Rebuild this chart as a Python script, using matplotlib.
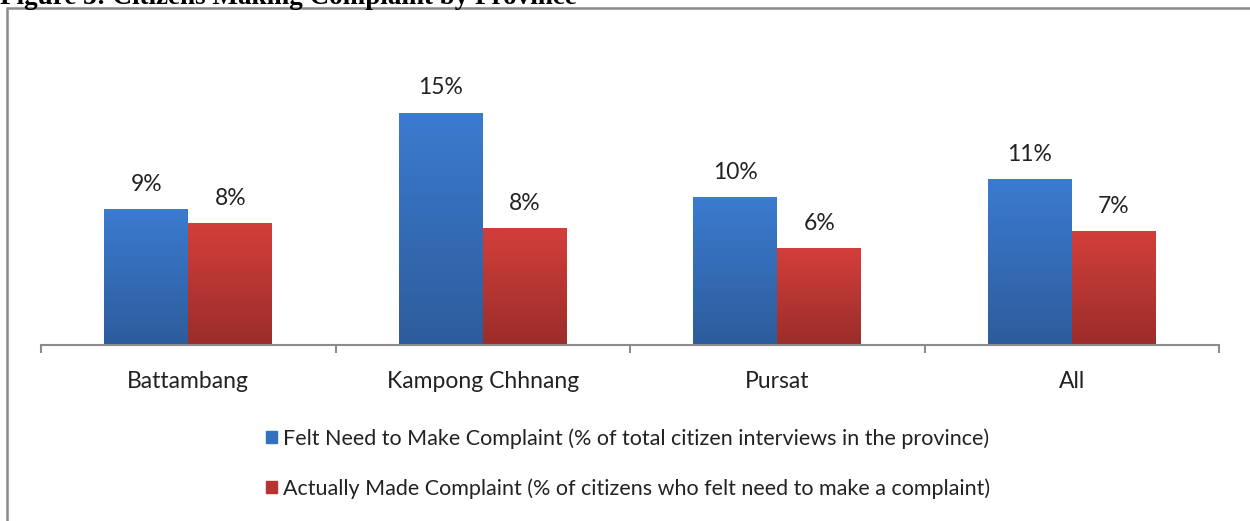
import matplotlib
matplotlib.use("Agg")
from matplotlib import pyplot as plt
from matplotlib.patches import Rectangle
from matplotlib.colors import LinearSegmentedColormap
import numpy as np

provinces = ["Battambang", "Kampong Chhnang", "Pursat", "All"]
felt_need = [8.8, 15.1, 9.6, 10.8]
made_complaint = [7.9, 7.6, 6.3, 7.4]
series_names = [
    "Felt Need to Make Complaint (% of total citizen interviews in the province)",
    "Actually Made Complaint (% of citizens who felt need to make a complaint)",
]

plt.rcParams['font.family'] = ['Lato', 'DejaVu Sans']

W, H = 1250, 521
fig = plt.figure(figsize=(W / 100, H / 100), dpi=100)
ax = fig.add_axes([41 / W, 1 - 345 / H, 1178 / W, (345 - 68.5) / H])

blue_cmap = LinearSegmentedColormap.from_list("b", ["#2d5c9b", "#3b7bd0"])
red_cmap = LinearSegmentedColormap.from_list("r", ["#9a2d2a", "#d33f3b"])

bw = 0.285
x = np.arange(len(provinces))
grad = np.linspace(0, 1, 256).reshape(-1, 1)

for vals, cmap, off in [(felt_need, blue_cmap, -bw / 2), (made_complaint, red_cmap, bw / 2)]:
    bars = ax.bar(x + off, vals, width=bw, color="none", edgecolor="none")
    for b, v in zip(bars, vals):
        x0 = b.get_x()
        ax.imshow(grad, cmap=cmap, origin="lower", aspect="auto",
                  extent=[x0, x0 + bw, 0, v], zorder=2)
        ax.text(x0 + bw / 2, v + 0.95, f"{v:.0f}%", ha="center", va="bottom",
                fontsize=16.5, color="#222222")

ax.set_xlim(-0.5, 3.5)
ax.set_ylim(0, 18)
for s in ["top", "right", "left"]:
    ax.spines[s].set_visible(False)
ax.spines["bottom"].set_color("#8c8c8c")
ax.spines["bottom"].set_linewidth(1.5)
ax.set_yticks([])
ax.set_xticks(np.arange(-0.5, 4, 1))
ax.set_xticklabels([])
ax.tick_params(axis="x", which="major", length=6, width=1.5, color="#8c8c8c")
ax.set_xticks(x, minor=True)
ax.set_xticklabels(provinces, minor=True, fontsize=16.5, color="#222222")
ax.tick_params(axis="x", which="minor", length=0, pad=19)

# legend squares and text
handles = [Rectangle((0, 0), 1, 1, color="#3470c0"), Rectangle((0, 0), 1, 1, color="#b93533")]
fig.legend(handles, series_names, loc="upper left", bbox_to_anchor=(247 / W, 1 - 409 / H),
           frameon=False, fontsize=15.5, handlelength=0.5, handleheight=0.5,
           handletextpad=0.25, labelspacing=1.35, labelcolor="#222222")

# frame around the chart
fig.add_artist(Rectangle((7 / W, -0.1), 1.1, (H - 8) / H + 0.1, transform=fig.transFigure,
                         fill=False, edgecolor="#8c8c8c", linewidth=1.8))

fig.text(0.0, 1 - 4 / H, "Figure 3: Citizens Making Complaint by Province",
         family="Liberation Serif", fontweight="bold", fontsize=19.5, va="baseline")

fig.savefig("out.png", dpi=100)
